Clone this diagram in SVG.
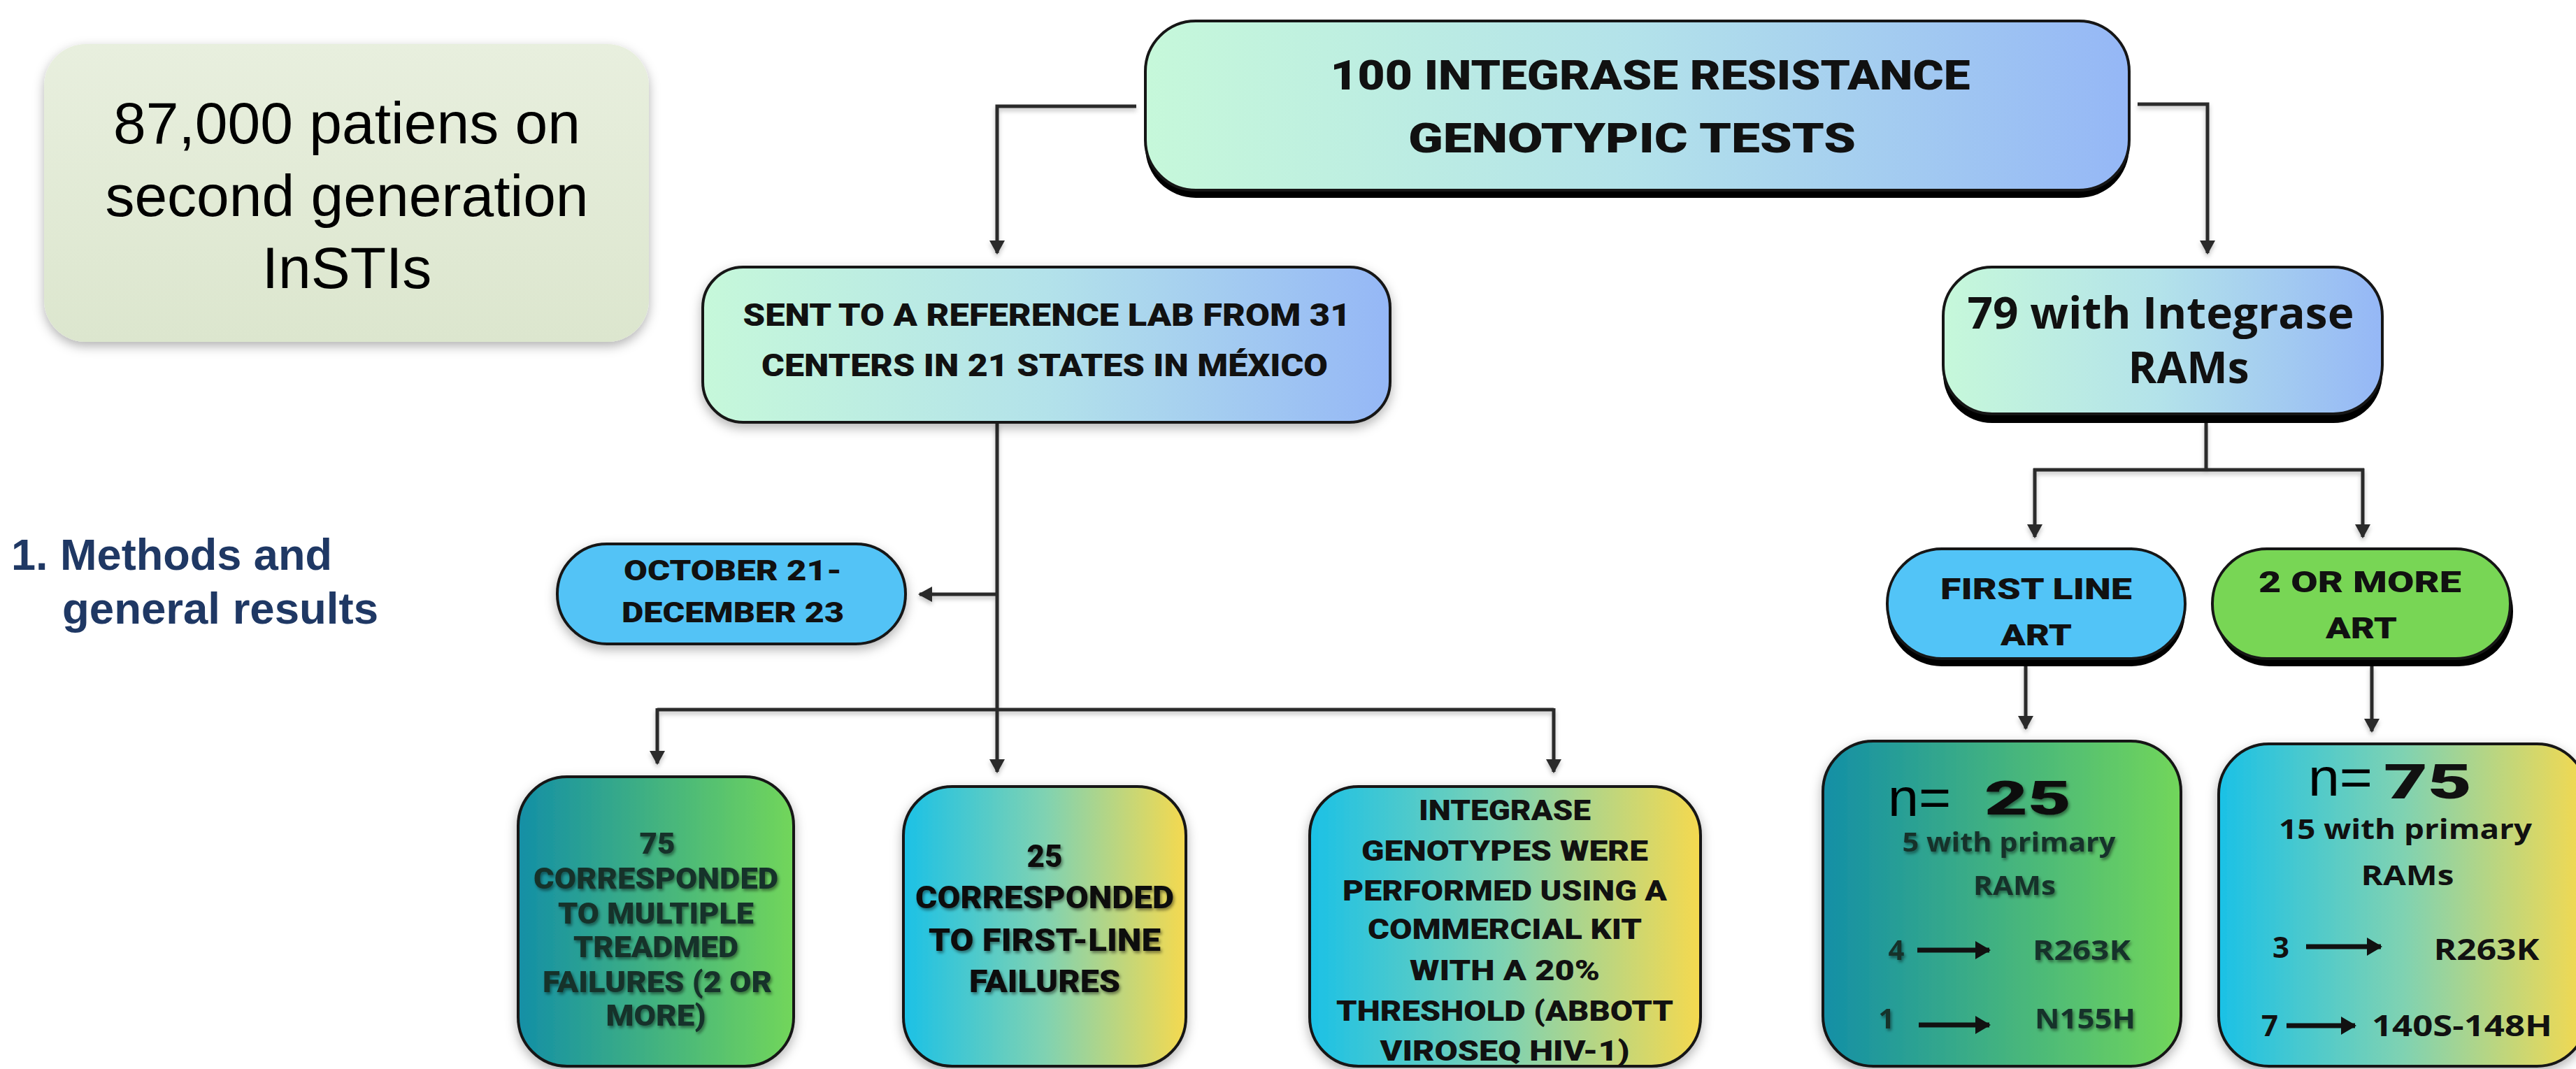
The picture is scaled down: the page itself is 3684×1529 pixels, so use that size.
<svg xmlns="http://www.w3.org/2000/svg" width="3684" height="1529" viewBox="0 0 3684 1529">
<defs>
<style>
.hv{font-family:Roboto,Lato,Inter,"DejaVu Sans",sans-serif;font-weight:900;fill:#111;text-anchor:middle}
.ob{font-family:"Open Sans","Noto Sans","DejaVu Sans",sans-serif;font-weight:700;fill:#111;text-anchor:middle}
.ar{font-family:"Liberation Sans",Arial,sans-serif;fill:#000}
.mt{font-family:"Liberation Sans",Arial,sans-serif;font-weight:700;fill:#1f3864}
.box{stroke:#161616;stroke-width:4}
.sh{fill:#000}
.cn{fill:none;stroke:#2a2a2a;stroke-width:5}
.sm{fill:none;stroke:#111;stroke-width:7}
</style>
<linearGradient id="gBlue" x1="0" y1="0" x2="1" y2="0">
<stop offset="0" stop-color="#c6f8da"/><stop offset="0.5" stop-color="#b3e2ea"/><stop offset="1" stop-color="#95b7f6"/>
</linearGradient>
<linearGradient id="gTG" x1="0" y1="0" x2="1" y2="0">
<stop offset="0" stop-color="#138fa6"/><stop offset="1" stop-color="#72d65a"/>
</linearGradient>
<linearGradient id="gCY" x1="0" y1="0" x2="1" y2="0">
<stop offset="0" stop-color="#1bc1e6"/><stop offset="0.5" stop-color="#7fd2b2"/><stop offset="1" stop-color="#f5d94f"/>
</linearGradient>
<linearGradient id="gSage" x1="0" y1="0" x2="0" y2="1">
<stop offset="0" stop-color="#e8efde"/><stop offset="1" stop-color="#dce6ce"/>
</linearGradient>
<filter id="soft" x="-10%" y="-10%" width="120%" height="130%">
<feDropShadow dx="0" dy="6" stdDeviation="8" flood-color="#000" flood-opacity="0.3"/>
</filter>
<filter id="txs" x="-5%" y="-20%" width="110%" height="150%">
<feDropShadow dx="2" dy="3" stdDeviation="2" flood-color="#000" flood-opacity="0.45"/>
</filter>
<filter id="lsh" x="-5%" y="-5%" width="110%" height="110%">
<feDropShadow dx="0" dy="4" stdDeviation="3" flood-color="#000" flood-opacity="0.25"/>
</filter>
<marker id="ah" markerUnits="userSpaceOnUse" markerWidth="20" markerHeight="22" refX="18" refY="11" orient="auto">
<path d="M0,0 L20,11 L0,22 z" fill="#2a2a2a"/>
</marker>
<marker id="ah2" markerUnits="userSpaceOnUse" markerWidth="22" markerHeight="26" refX="20" refY="13" orient="auto">
<path d="M0,0 L22,13 L0,26 z" fill="#111"/>
</marker>
</defs>
<rect width="3684" height="1529" fill="#fff"/>

<g id="connectors" filter="url(#lsh)">
<path class="cn" d="M1625,152 H1426 V362" marker-end="url(#ah)"/>
<path class="cn" d="M3057,149 H3157 V362" marker-end="url(#ah)"/>
<path class="cn" d="M1426,604 V1104" marker-end="url(#ah)"/>
<path class="cn" d="M1426,850 H1315" marker-end="url(#ah)"/>
<path class="cn" d="M940,1015 H2222"/>
<path class="cn" d="M940,1013 V1092" marker-end="url(#ah)"/>
<path class="cn" d="M2222,1013 V1104" marker-end="url(#ah)"/>
<path class="cn" d="M3155,604 V672"/>
<path class="cn" d="M2908,672 H3381"/>
<path class="cn" d="M2910,670 V768" marker-end="url(#ah)"/>
<path class="cn" d="M3379,670 V768" marker-end="url(#ah)"/>
<path class="cn" d="M2897,950 V1042" marker-end="url(#ah)"/>
<path class="cn" d="M3392,952 V1046" marker-end="url(#ah)"/>
</g>

<g id="n-patients">
<rect x="63" y="63" width="865" height="426" rx="60" fill="url(#gSage)" filter="url(#soft)"/>
<text class="ar" x="496" y="205" font-size="84" text-anchor="middle">87,000 patiens on</text>
<text class="ar" x="496" y="309" font-size="84" text-anchor="middle">second generation</text>
<text class="ar" x="496" y="412" font-size="84" text-anchor="middle">InSTIs</text>
</g>

<g id="t-methods">
<text class="mt" x="16" y="815" font-size="63" fill="#0b1f5e">1.</text>
<text class="mt" x="86" y="815" font-size="63" textLength="389" lengthAdjust="spacingAndGlyphs">Methods and</text>
<text class="mt" x="89" y="892" font-size="63" textLength="452" lengthAdjust="spacingAndGlyphs">general results</text>
</g>

<g id="n-top">
<rect class="sh" x="1638" y="41" width="1407" height="242" rx="72"/>
<rect class="box" x="1638" y="30" width="1407" height="242" rx="72" fill="url(#gBlue)"/>
<text class="hv" x="2360" y="128" font-size="60" textLength="915" lengthAdjust="spacingAndGlyphs">100 INTEGRASE RESISTANCE</text>
<text class="hv" x="2334" y="218" font-size="60" textLength="640" lengthAdjust="spacingAndGlyphs">GENOTYPIC TESTS</text>
</g>

<g id="n-sent">
<rect class="box" x="1005" y="382" width="983" height="222" rx="58" fill="url(#gBlue)" filter="url(#soft)"/>
<text class="hv" x="1497" y="466" font-size="44" fill="#1a2626" textLength="869" lengthAdjust="spacingAndGlyphs">SENT TO A REFERENCE LAB FROM 31</text>
<text class="hv" x="1494" y="538" font-size="44" fill="#1a2626" textLength="810" lengthAdjust="spacingAndGlyphs">CENTERS IN 21 STATES IN MÉXICO</text>
</g>

<g id="n-oct">
<rect class="box" x="797" y="778" width="498" height="143" rx="71" fill="#52c3f6" stroke-width="5" filter="url(#soft)"/>
<text class="hv" x="1048" y="830" font-size="40" textLength="312" lengthAdjust="spacingAndGlyphs">OCTOBER 21-</text>
<text class="hv" x="1048" y="890" font-size="40" textLength="318" lengthAdjust="spacingAndGlyphs">DECEMBER 23</text>
</g>

<g id="n-75multi">
<rect class="box" x="741" y="1111" width="394" height="414" rx="70" fill="url(#gTG)" filter="url(#soft)"/>
<g class="hv" font-size="42" filter="url(#txs)">
<text x="940" y="1221" textLength="51" lengthAdjust="spacingAndGlyphs" fill="#14302a">75</text>
<text x="938" y="1271" textLength="350" lengthAdjust="spacingAndGlyphs" fill="#14302a">CORRESPONDED</text>
<text x="938" y="1321" textLength="280" lengthAdjust="spacingAndGlyphs" fill="#14302a">TO MULTIPLE</text>
<text x="938" y="1369" textLength="236" lengthAdjust="spacingAndGlyphs" fill="#14302a">TREADMED</text>
<text x="940" y="1419" textLength="328" lengthAdjust="spacingAndGlyphs" fill="#14302a">FAILURES (2 OR</text>
<text x="938" y="1467" textLength="143" lengthAdjust="spacingAndGlyphs" fill="#14302a">MORE)</text>
</g>
</g>

<g id="n-25first">
<rect class="box" x="1292" y="1125" width="404" height="400" rx="70" fill="url(#gCY)" filter="url(#soft)"/>
<g class="hv" font-size="44" filter="url(#txs)">
<text x="1494" y="1240" textLength="51" lengthAdjust="spacingAndGlyphs">25</text>
<text x="1494" y="1299" textLength="370" lengthAdjust="spacingAndGlyphs">CORRESPONDED</text>
<text x="1494" y="1360" textLength="332" lengthAdjust="spacingAndGlyphs">TO FIRST-LINE</text>
<text x="1494" y="1419" textLength="216" lengthAdjust="spacingAndGlyphs">FAILURES</text>
</g>
</g>

<g id="n-genotypes">
<rect class="box" x="1873" y="1125" width="559" height="400" rx="70" fill="url(#gCY)" filter="url(#soft)"/>
<g class="hv" font-size="40">
<text x="2152" y="1173" textLength="246" lengthAdjust="spacingAndGlyphs">INTEGRASE</text>
<text x="2152" y="1231" textLength="410" lengthAdjust="spacingAndGlyphs">GENOTYPES WERE</text>
<text x="2152" y="1288" textLength="464" lengthAdjust="spacingAndGlyphs">PERFORMED USING A</text>
<text x="2152" y="1343" textLength="392" lengthAdjust="spacingAndGlyphs">COMMERCIAL KIT</text>
<text x="2152" y="1402" textLength="272" lengthAdjust="spacingAndGlyphs">WITH A 20%</text>
<text x="2152" y="1460" textLength="482" lengthAdjust="spacingAndGlyphs">THRESHOLD (ABBOTT</text>
<text x="2152" y="1517" textLength="357" lengthAdjust="spacingAndGlyphs">VIROSEQ HIV-1)</text>
</g>
</g>

<g id="n-79">
<rect class="sh" x="2779" y="393" width="628" height="212" rx="70"/>
<rect class="box" x="2779" y="382" width="628" height="210" rx="70" fill="url(#gBlue)"/>
<text class="ob" x="3090" y="470" font-size="62" textLength="553" lengthAdjust="spacingAndGlyphs">79 with Integrase</text>
<text class="ob" x="3130" y="548" font-size="62">RAMs</text>
</g>

<g id="n-firstline">
<rect class="sh" x="2699" y="796" width="426" height="157" rx="78"/>
<rect class="box" x="2699" y="785" width="426" height="157" rx="78" fill="#52c4f7"/>
<text class="hv" x="2912" y="857" font-size="42" textLength="274" lengthAdjust="spacingAndGlyphs">FIRST LINE</text>
<text class="hv" x="2912" y="923" font-size="42" textLength="102" lengthAdjust="spacingAndGlyphs">ART</text>
</g>

<g id="n-2more">
<rect class="sh" x="3168" y="796" width="426" height="157" rx="78"/>
<rect class="box" x="3164" y="785" width="426" height="157" rx="78" fill="#78d655"/>
<text class="hv" x="3375" y="847" font-size="42" textLength="290" lengthAdjust="spacingAndGlyphs">2 OR MORE</text>
<text class="hv" x="3377" y="913" font-size="42" textLength="102" lengthAdjust="spacingAndGlyphs">ART</text>
</g>

<g id="n-n25">
<rect class="box" x="2607" y="1060" width="512" height="465" rx="72" fill="url(#gTG)" filter="url(#soft)"/>
<text class="ar" x="2700" y="1167" font-size="76" textLength="90" lengthAdjust="spacingAndGlyphs" fill="#111">n=</text>
<text class="hv" x="2900" y="1165" font-size="66" textLength="124" lengthAdjust="spacingAndGlyphs" filter="url(#txs)">25</text>
<g class="ob" filter="url(#txs)">
<text x="2873" y="1218" font-size="38" textLength="305" lengthAdjust="spacingAndGlyphs" fill="#14302a">5 with primary</text>
<text x="2881" y="1280" font-size="38" textLength="118" lengthAdjust="spacingAndGlyphs" fill="#14302a">RAMs</text>
<text x="2712" y="1373" font-size="40" fill="#14302a">4</text>
<text x="2977" y="1373" font-size="40" textLength="140" lengthAdjust="spacingAndGlyphs" fill="#14302a">R263K</text>
<text x="2698" y="1471" font-size="40" fill="#14302a">1</text>
<text x="2982" y="1471" font-size="40" textLength="144" lengthAdjust="spacingAndGlyphs" fill="#14302a">N155H</text>
</g>
<path class="sm" d="M2742,1359 H2845" marker-end="url(#ah2)"/>
<path class="sm" d="M2744,1466 H2845" marker-end="url(#ah2)"/>
</g>

<g id="n-n75">
<rect class="box" x="3173" y="1064" width="527" height="461" rx="72" fill="url(#gCY)" filter="url(#soft)"/>
<text class="ar" x="3301" y="1138" font-size="76" textLength="92" lengthAdjust="spacingAndGlyphs" fill="#111">n=</text>
<text class="hv" x="3472" y="1142" font-size="68" textLength="126" lengthAdjust="spacingAndGlyphs">75</text>
<g class="ob">
<text x="3440" y="1200" font-size="40" textLength="362" lengthAdjust="spacingAndGlyphs">15 with primary</text>
<text x="3443" y="1266" font-size="40" textLength="133" lengthAdjust="spacingAndGlyphs">RAMs</text>
<text x="3262" y="1370" font-size="42">3</text>
<text x="3556" y="1373" font-size="42" textLength="151" lengthAdjust="spacingAndGlyphs">R263K</text>
<text x="3246" y="1482" font-size="42">7</text>
<text x="3521" y="1482" font-size="42" textLength="258" lengthAdjust="spacingAndGlyphs">140S-148H</text>
</g>
<path class="sm" d="M3298,1354 H3405" marker-end="url(#ah2)"/>
<path class="sm" d="M3270,1467 H3368" marker-end="url(#ah2)"/>
</g>
</svg>
